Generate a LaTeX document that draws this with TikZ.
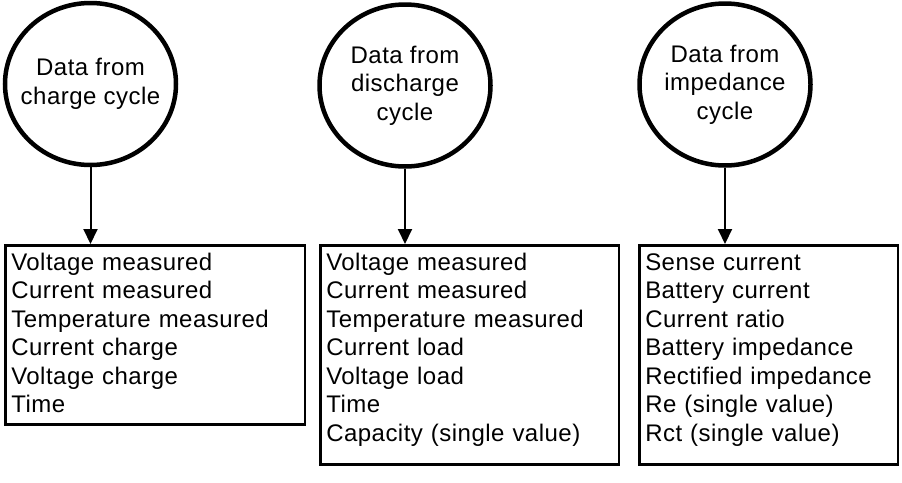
\documentclass[tikz,border=0pt]{standalone}
\usepackage{fontspec}
\setmainfont{Liberation Sans}[LetterSpace=2]
\usetikzlibrary{shapes.geometric, arrows.meta}

\begin{document}
\begin{tikzpicture}[x=1pt, y=-1pt, >={Triangle[width=14pt, length=15pt]},
    cyclecircle/.style={draw, ellipse, line width=4.5pt, minimum width=171pt, minimum height=162pt, inner sep=-20pt, align=center, font=\fontsize{24}{28.5}\selectfont},
    listbox/.style={draw, rectangle, line width=2.5pt, anchor=north west, align=left, inner xsep=6pt, inner ysep=0pt, text height=25pt, font=\fontsize{24}{28.5}\selectfont}]
    \useasboundingbox (0,0) rectangle (902,482);

    \node (ChargeCycle) [cyclecircle] at (90.5,84) {Data from\\charge cycle};
    \node (DischargeCycle) [cyclecircle] at (405,85.5) {Data from\\discharge\\cycle};
    \node (ImpedanceCycle) [cyclecircle] at (725,84.5) {Data from\\impedance\\cycle};

    \node (ChargeData) [listbox, text width=287.5pt, text depth=154pt] at (4,244) {Voltage measured\\Current measured\\Temperature measured\\Current charge\\Voltage charge\\Time};
    \node (DischargeData) [listbox, text width=286.5pt, text depth=194pt] at (319,244) {Voltage measured\\Current measured\\Temperature measured\\Current load\\Voltage load\\Time\\Capacity (single value)};
    \node (ImpedanceData) [listbox, text width=246.5pt, text depth=194pt] at (638,244) {Sense current\\Battery current\\Current ratio\\Battery impedance\\Rectified impedance\\Re (single value)\\Rct (single value)};

    \draw[->, line width=2pt] (ChargeCycle) -- (ChargeCycle |- ChargeData.north);
    \draw[->, line width=2pt] (DischargeCycle) -- (DischargeCycle |- DischargeData.north);
    \draw[->, line width=2pt] (ImpedanceCycle) -- (ImpedanceCycle |- ImpedanceData.north);
\end{tikzpicture}
\end{document}
